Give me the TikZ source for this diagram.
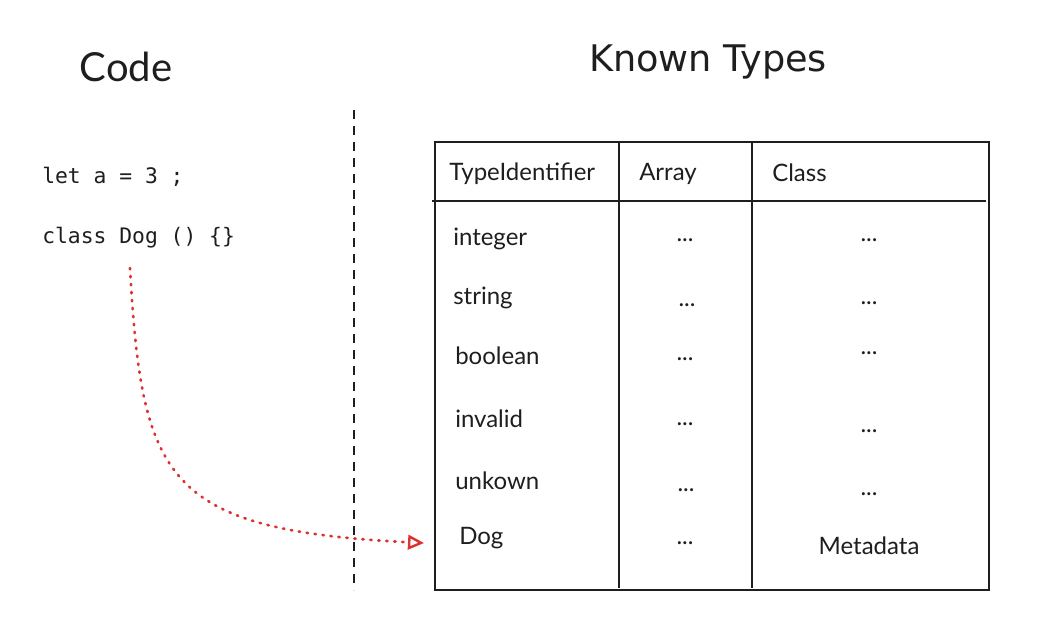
\documentclass[tikz,border=0pt]{standalone}
\usepackage{fontspec}
\setmainfont{Lato}
\setmonofont{DejaVu Sans Mono}
\newfontfamily\handfont{DejaVu Sans}
\usetikzlibrary{arrows.meta}
\definecolor{ink}{HTML}{1E1E1E}
\definecolor{redline}{HTML}{E03131}
\tikzset{
  cell/.style={anchor=west, inner sep=0pt, font=\fontsize{18}{20}\selectfont, text=ink},
  dots/.style={inner sep=0pt, font=\fontsize{18}{20}\selectfont, text=ink},
  code/.style={anchor=west, inner sep=0pt, font=\ttfamily\fontsize{16}{18}\selectfont, text=ink},
  rule/.style={draw=ink, line width=0.9pt}
}
\begin{document}
\begin{tikzpicture}[x=0.75pt, y=-0.75pt]
  \useasboundingbox (0,0) rectangle (1049,637);
  % titles
  \node[inner sep=0pt, text=ink, font=\fontsize{30}{34}\selectfont] (codetitle) at (126,67) {Code};
  \node[inner sep=0pt, text=ink, font=\handfont\fontsize{27.5}{30}\selectfont] (typestitle) at (708,62) {Known Types};
  % code lines
  \node[code] (letline) at (42,177) {let a = 3 ;};
  \node[code] (classline) at (42,238) {class Dog () \{\}};
  % separator
  \draw[ink, line width=0.9pt, dash pattern=on 7pt off 5pt] (354,110) -- (354,590);
  % table frame
  \draw[rule] (435,142) rectangle (989,590);
  \draw[rule] (432,201) -- (986,201);
  \draw[rule] (619,142) -- (619,588);
  \draw[rule] (752,142) -- (752,588);
  % header
  \node[cell] (hid) at (449,174) {TypeIdentifier};
  \node[cell] (harr) at (639,174) {Array};
  \node[cell] (hcls) at (772,173) {Class};
  % first column
  \node[cell] (tint) at (453,239) {integer};
  \node[cell] (tstr) at (453,298) {string};
  \node[cell] (tbool) at (455,356) {boolean};
  \node[cell] (tinv) at (455,419) {invalid};
  \node[cell] (tunk) at (455,481) {unkown};
  \node[cell] (tdog) at (459,538) {Dog};
  % array column
  \node[dots] (aint) at (685,240) {...};
  \node[dots] (astr) at (687,305) {...};
  \node[dots] (abool) at (685,359) {...};
  \node[dots] (ainv) at (685,424) {...};
  \node[dots] (aunk) at (686,490) {...};
  \node[dots] (adog) at (685,543) {...};
  % class column
  \node[dots] (cint) at (869,240) {...};
  \node[dots] (cstr) at (869,303) {...};
  \node[dots] (cbool) at (869,353) {...};
  \node[dots] (cinv) at (869,431) {...};
  \node[dots] (cunk) at (869,494) {...};
  \node[dots] (cdog) at (869,546) {Metadata};
  % pointer
  \coordinate (src) at (130,268);
  \coordinate (dst) at (424,543);
  \draw[redline, line width=2pt, dash pattern=on 1pt off 5pt, line cap=round,
        -{Triangle[open, length=12pt, width=11pt, line width=1.8pt]}]
    (src) .. controls (142,480) and (165,530) .. (dst);
\end{tikzpicture}
\end{document}
